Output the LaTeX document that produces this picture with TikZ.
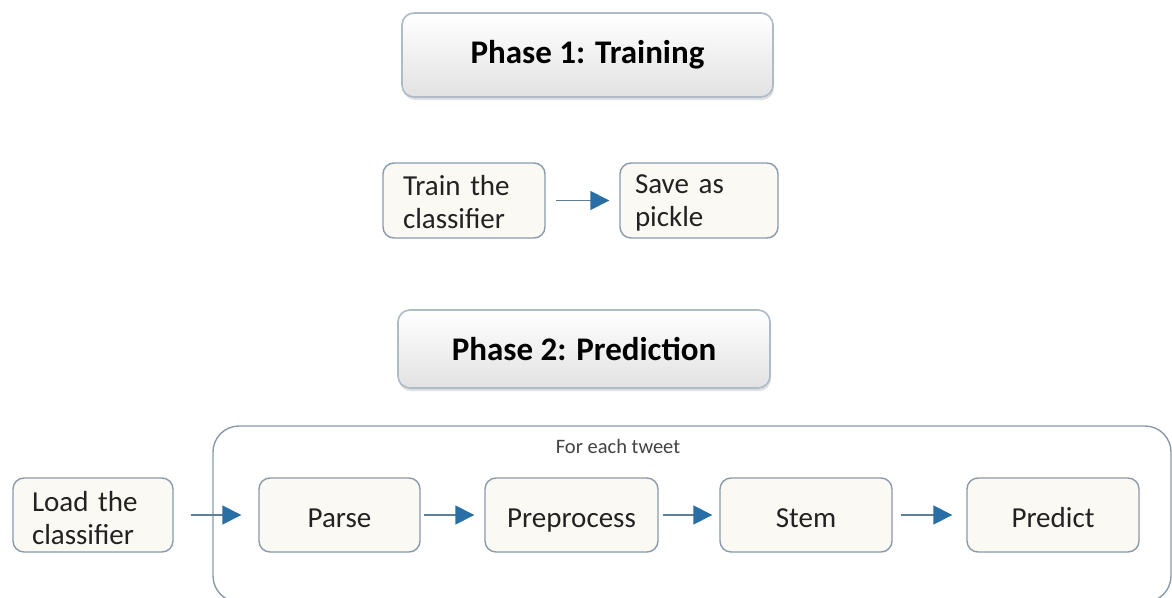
\documentclass[tikz,border=0pt]{standalone}
\usepackage{fontspec}
\setmainfont{Carlito}
\usetikzlibrary{arrows.meta,shadows}

\definecolor{boxline}{HTML}{8A9AAB}
\definecolor{arrowline}{HTML}{5F7F99}
\definecolor{arrowhead}{HTML}{2A6EA6}
\definecolor{textdark}{HTML}{222222}
\definecolor{cream}{HTML}{FAF9F3}
\definecolor{phasebot}{HTML}{E2E2E2}
\definecolor{phaseline}{HTML}{AEBBC8}

\tikzset{
  phasebox/.style={draw=phaseline, line width=1.6pt, rounded corners=12pt,
    top color=white, bottom color=phasebot,
    drop shadow={opacity=0.25, shadow xshift=1pt, shadow yshift=-3pt},
    font=\fontsize{33}{36}\selectfont\bfseries, text=black, inner sep=0pt},
  stepbox/.style={draw=boxline, line width=1.4pt, rounded corners=11pt,
    fill=cream, font=\fontsize{29}{33}\selectfont, text=textdark, inner sep=0pt,
    minimum height=74pt},
  oneline/.style={stepbox, text height=25pt, text depth=0pt},
  twoline/.style={stepbox, align=left},
  flow/.style={draw=arrowline, line width=1.5pt,
    -{Triangle[length=19pt,width=19pt,color=arrowhead,fill=arrowhead]}},
  loopbox/.style={draw=boxline, line width=1.4pt, rounded corners=26pt}
}

\begin{document}
\begin{tikzpicture}[x=1pt,y=-1pt]
\useasboundingbox (0,0) rectangle (1172,597);
\fill[white] (0,0) rectangle (1172,597);

% Phase 1
\node[phasebox, minimum width=371pt, minimum height=84pt] (p1) at (587.5,55) {Phase 1: Training};
\node[twoline, minimum width=162pt, minimum height=75pt, text width=122pt] (train) at (464,200.5) {\rule{0pt}{24pt}Train the\\classifier};
\node[twoline, minimum width=158pt, minimum height=75pt, text width=128pt] (save) at (699,200.5) {\rule{0pt}{24pt}Save as\\pickle};
\draw[flow, shorten <=10pt, shorten >=10pt] (train) -- (save);

% Phase 2
\node[phasebox, minimum width=372pt, minimum height=78pt] (p2) at (584,349) {Phase 2: Prediction};

% loop over tweets
\draw[loopbox] (213,426) rectangle (1171,602);
\node[font=\fontsize{20.5}{22}\selectfont, text=textdark!85] (loop) at (618,446) {For each tweet};

\node[twoline, minimum width=160pt, text width=122pt] (load) at (93,515) {\rule{0pt}{27pt}Load the\\classifier};
\node[oneline, minimum width=161pt] (parse) at (339.5,515) {Parse};
\node[oneline, minimum width=173pt] (prep) at (571.5,515) {Preprocess};
\node[oneline, minimum width=172pt] (stem) at (806,515) {Stem};
\node[oneline, minimum width=172pt] (pred) at (1053,515) {Predict};

\draw[flow, shorten <=17pt, shorten >=17pt] (load) -- (parse);
\draw[flow, shorten <=3pt, shorten >=10pt] (parse) -- (prep);
\draw[flow, shorten <=4pt, shorten >=7pt] (prep) -- (stem);
\draw[flow, shorten <=8pt, shorten >=14pt] (stem) -- (pred);
\end{tikzpicture}
\end{document}
